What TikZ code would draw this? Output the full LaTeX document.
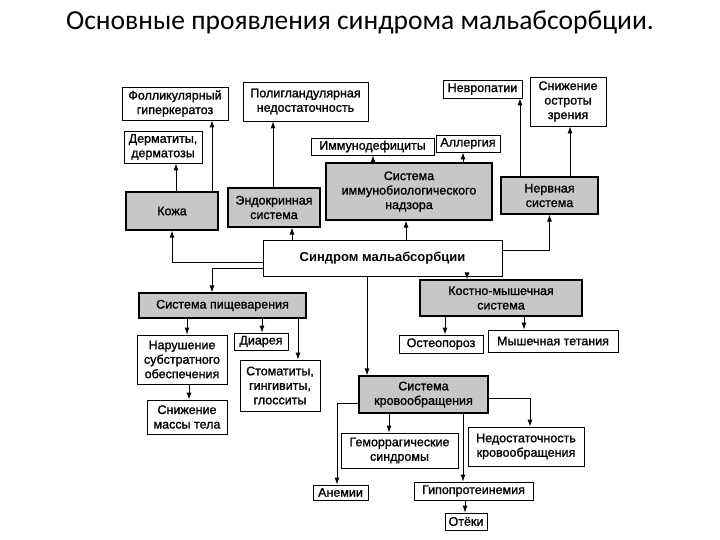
\documentclass[tikz,border=0pt]{standalone}
\usepackage{fontspec}
\setmainfont{Liberation Sans}
\newfontfamily\titlefont{Carlito}
\newfontfamily\boxfont{Liberation Sans}[FakeBold=1.2]
\newfontfamily\boldboxfont{Liberation Sans Bold}
\usetikzlibrary{arrows.meta,calc}
\begin{document}
\begin{tikzpicture}[x=1pt,y=-1pt,
  box/.style={draw, line width=0.9pt, align=center, inner sep=1pt, font=\boxfont\fontsize{12.5}{14.5}\selectfont, fill=white},
  sysbox/.style={box, fill=black!22, line width=1.1pt},
  arr/.style={line width=0.9pt, -{Latex[length=7pt,width=5pt]}}]
\useasboundingbox (0,0) rectangle (720,540);
\node[font=\titlefont\fontsize{27.5}{30}\selectfont] (title) at (360,22) {Основные проявления синдрома мальабсорбции.};
% top row
\node[box, minimum width=106, minimum height=33] (foll) at (175,103.5) {Фолликулярный\\гиперкератоз};
\node[box, minimum width=125, minimum height=39] (poly) at (305.5,101.5) {Полигландулярная\\недостаточность};
\node[box, minimum width=78, minimum height=32] (derm) at (163,147) {Дерматиты,\\дерматозы};
\node[box, minimum width=79, minimum height=18] (nevro) at (482.5,89) {Невропатии};
\node[box, minimum width=76, minimum height=49] (zren) at (568,101.5) {Снижение\\остроты\\зрения};
\node[box, minimum width=123, minimum height=17] (immdef) at (372.5,146.5) {Иммунодефициты};
\node[box, minimum width=64, minimum height=17] (allerg) at (468,143.5) {Аллергия};
% systems upper
\node[sysbox, minimum width=92, minimum height=38] (koja) at (172,211) {Кожа};
\node[sysbox, minimum width=92, minimum height=39] (endo) at (274,207.5) {Эндокринная\\система};
\node[sysbox, minimum width=166, minimum height=57] (immsys) at (409,191.5) {Система\\иммунобиологического\\надзора};
\node[sysbox, minimum width=97, minimum height=37] (nerv) at (549.5,195.5) {Нервная\\система};
% central
\node[box, minimum width=239, minimum height=36, font=\boldboxfont\fontsize{13}{15}\selectfont] (synd) at (382.5,258) {Синдром мальабсорбции};
% systems lower
\node[sysbox, minimum width=167, minimum height=25] (pish) at (222.5,305.5) {Система пищеварения};
\node[sysbox, minimum width=162, minimum height=36] (kost) at (501,298) {Костно-мышечная\\система};
\node[box, minimum width=90, minimum height=49] (narush) at (182,359.5) {Нарушение\\субстратного\\обеспечения};
\node[box, minimum width=54, minimum height=17] (diar) at (261,341.5) {Диарея};
\node[box, minimum width=80, minimum height=51] (stom) at (280,385.5) {Стоматиты,\\гингивиты,\\глосситы};
\node[box, minimum width=80, minimum height=34] (massa) at (187,417) {Снижение\\массы тела};
\node[box, minimum width=84, minimum height=18] (osteo) at (441,344) {Остеопороз};
\node[box, minimum width=130, minimum height=22] (tetan) at (553,341) {Мышечная тетания};
\node[sysbox, minimum width=129, minimum height=37] (krov) at (423.5,394.5) {Система\\кровообращения};
\node[box, minimum width=117, minimum height=35] (gemor) at (399.5,450.5) {Геморрагические\\синдромы};
\node[box, minimum width=116, minimum height=39] (nedost) at (526,446.5) {Недостаточность\\кровообращения};
\node[box, minimum width=55, minimum height=15] (anem) at (340.5,492.5) {Анемии};
\node[box, minimum width=119, minimum height=18] (gipo) at (473.5,491) {Гипопротеинемия};
\node[box, minimum width=42, minimum height=17] (otek) at (466,521.5) {Отёки};
% arrows upper
\draw[arr] (176,0 |- koja.north) -- (176,0 |- derm.south);
\draw[arr] (212,0 |- koja.north) -- (212,0 |- foll.south);
\draw[arr] (273,0 |- endo.north) -- (273,0 |- poly.south);
\draw[arr] (373,0 |- immsys.north) -- (373,0 |- immdef.south);
\draw[arr] (463,0 |- immsys.north) -- (463,0 |- allerg.south);
\draw[arr] (520,0 |- nerv.north) -- (520,0 |- nevro.south);
\draw[arr] (570,0 |- nerv.north) -- (570,0 |- zren.south);
% from syndrome
\draw[arr] (synd.west |- 0,262) -| (koja.south);
\draw[arr] (synd.west |- 0,268) -| (212,0 |- pish.north);
\draw[arr] (292,0 |- synd.north) -- (292,0 |- endo.south);
\draw[arr] (406,0 |- synd.north) -- (406,0 |- immsys.south);
\draw[arr] (synd.east |- 0,250) -| (nerv.south);
\draw[arr] (467,0 |- synd.south) -- (467,0 |- kost.north);
\draw[arr] (367,0 |- synd.south) -- (367,0 |- krov.north);
% digestion
\draw[arr] (187,0 |- pish.south) -- (187,0 |- narush.north);
\draw[arr] (262,0 |- pish.south) -- (262,0 |- diar.north);
\draw[arr] (298,0 |- pish.south) -- (298,0 |- stom.north);
\draw[arr] (189,0 |- narush.south) -- (189,0 |- massa.north);
% musculoskeletal
\draw[arr] (445,0 |- kost.south) -- (445,0 |- osteo.north);
\draw[arr] (524,0 |- kost.south) -- (524,0 |- tetan.north);
% circulation
\draw[arr] (389,0 |- krov.south) -- (389,0 |- gemor.north);
\draw[arr] (krov.west |- 0,403) -| (337,0 |- anem.north);
\draw[arr] (463,0 |- krov.south) -- (463,0 |- gipo.north);
\draw[arr] (krov.east |- 0,398) -| (530,0 |- nedost.north);
\draw[arr] (465,0 |- gipo.south) -- (465,0 |- otek.north);
\end{tikzpicture}
\end{document}
